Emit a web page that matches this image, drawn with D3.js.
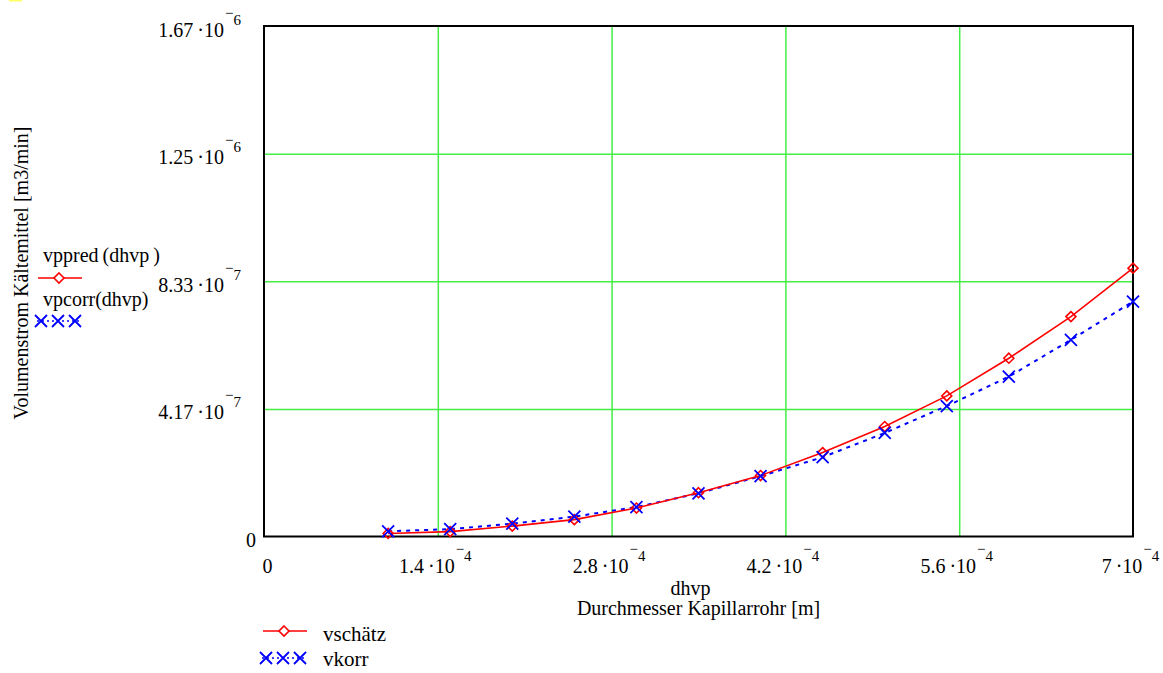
<!DOCTYPE html>
<html>
<head>
<meta charset="utf-8">
<script src="https://cdn.jsdelivr.net/npm/d3@7"></script>
<style>
  body { margin: 0; background: #fff; }
  svg { display: block; }
  svg text { font-family: "Liberation Serif", "Times New Roman", serif; }
</style>
</head>
<body>
<svg id="chart"></svg>
<script>
// diameter of capillary tube [m]
const dhvp = [1e-4, 1.5e-4, 2e-4, 2.5e-4, 3e-4, 3.5e-4, 4e-4, 4.5e-4, 5e-4, 5.5e-4, 6e-4, 6.5e-4, 7e-4];
// refrigerant volume flow [m3/min]
const vschaetz = [0.10e-7, 0.16e-7, 0.34e-7, 0.55e-7, 0.93e-7, 1.43e-7, 1.99e-7, 2.74e-7, 3.59e-7, 4.59e-7, 5.82e-7, 7.18e-7, 8.76e-7];
const vkorr = [0.17e-7, 0.24e-7, 0.42e-7, 0.65e-7, 0.96e-7, 1.41e-7, 1.97e-7, 2.59e-7, 3.38e-7, 4.26e-7, 5.22e-7, 6.42e-7, 7.67e-7];

// tick values and their labels [mantissa, exponent]
const xTicks = [0, 1.4e-4, 2.8e-4, 4.2e-4, 5.6e-4, 7e-4];
const xTickLabels = [["0", ""], ["1.4\u2009\u00b710", "4"], ["2.8\u2009\u00b710", "4"], ["4.2\u2009\u00b710", "4"], ["5.6\u2009\u00b710", "4"], ["7\u2009\u00b710", "4"]];
const yTicks = [0, 4.1667e-7, 8.3333e-7, 1.25e-6, 1.6667e-6];
const yTickLabels = [["0", ""], ["4.17\u2009\u00b710", "7"], ["8.33\u2009\u00b710", "7"], ["1.25\u2009\u00b710", "6"], ["1.67\u2009\u00b710", "6"]];

const W = 1163, H = 673;
const margin = {top: 26, right: 30, bottom: 136.5, left: 264};

const svg = d3.select('#chart').attr('width', W).attr('height', H);

// small yellow mark in the corner
svg.append('rect').attr('x', 9).attr('y', 0).attr('width', 13).attr('height', 1.5).attr('fill', '#ffff66');

const x = d3.scaleLinear().domain([0, 7e-4]).range([margin.left, W - margin.right]);
const y = d3.scaleLinear().domain([0, 1.6667e-6]).range([H - margin.bottom, margin.top]);

const plotW = x.range()[1] - x.range()[0];
const plotH = y.range()[0] - y.range()[1];

// grid
const gx = svg.append('g')
    .attr('transform', `translate(0, ${margin.top})`)
    .call(d3.axisBottom(x).tickValues(xTicks.slice(1, -1)).tickSize(plotH).tickFormat(''));
const gy = svg.append('g')
    .attr('transform', `translate(${margin.left}, 0)`)
    .call(d3.axisRight(y).tickValues(yTicks.slice(1, -1)).tickSize(plotW).tickFormat(''));
[gx, gy].forEach(g => {
    g.select('.domain').remove();
    g.selectAll('line').attr('stroke', '#44ee44').attr('stroke-width', 1.5);
});

// frame
svg.append('rect')
    .attr('x', margin.left).attr('y', margin.top)
    .attr('width', plotW).attr('height', plotH)
    .attr('fill', 'none').attr('stroke', '#000').attr('stroke-width', 2);

function sciLabel(sel, lab) {
    sel.append('tspan').style('font-size', '20px').text(lab[0]);
    if (lab[1]) {
        sel.append('tspan').style('font-size', '15px').attr('dx', 1).attr('dy', -19).text('\u2212');
        sel.append('tspan').style('font-size', '15px').attr('dy', 7).text(lab[1]);
    }
}

// x tick labels
const xl = svg.append('g')
    .attr('transform', `translate(0, ${y(0) + 36.5})`)
    .call(d3.axisBottom(x).tickValues(xTicks).tickSize(0).tickFormat(''));
xl.attr('font-family', null).attr('font-size', null);
xl.select('.domain').remove();
xl.selectAll('.tick text').remove();
xl.selectAll('.tick').append('text')
    .attr('text-anchor', 'middle')
    .attr('x', (d, i) => i === 0 ? 3 : -3)
    .attr('fill', '#000')
    .each(function(d, i) { sciLabel(d3.select(this), xTickLabels[i]); });

// y tick labels
const yl = svg.append('g')
    .attr('transform', `translate(${margin.left}, 0)`)
    .call(d3.axisLeft(y).tickValues(yTicks).tickSize(0).tickFormat(''));
yl.attr('font-family', null).attr('font-size', null);
yl.select('.domain').remove();
yl.selectAll('.tick text').remove();
yl.selectAll('.tick').append('text')
    .attr('text-anchor', 'end')
    .attr('x', (d, i) => i === 0 ? -8 : -23)
    .attr('y', 10)
    .attr('fill', '#000')
    .each(function(d, i) { sciLabel(d3.select(this), yTickLabels[i]); });

// axis titles
const cx = (x.range()[0] + x.range()[1]) / 2;
svg.append('text').attr('x', cx - 8).attr('y', 595).attr('text-anchor', 'middle')
    .style('font-size', '20px').text('dhvp');
svg.append('text').attr('x', cx).attr('y', 615).attr('text-anchor', 'middle')
    .style('font-size', '20px').text('Durchmesser Kapillarrohr [m]');
svg.append('text').attr('transform', 'translate(28, 273) rotate(-90)').attr('text-anchor', 'middle')
    .style('font-size', '20px').text('Volumenstrom K\u00e4ltemittel [m3/min]');

// series
const lineRed = d3.line().x((d, i) => x(dhvp[i])).y(d => y(d));
const lineBlue = d3.line().x((d, i) => x(dhvp[i])).y(d => y(d));

svg.append('path').datum(vkorr)
    .attr('d', lineBlue)
    .attr('fill', 'none').attr('stroke', '#0000ff').attr('stroke-width', 2)
    .attr('stroke-dasharray', '4,5');
svg.append('path').datum(vschaetz)
    .attr('d', lineRed)
    .attr('fill', 'none').attr('stroke', '#ff0000').attr('stroke-width', 1.6);

const diamond = 'M0,-5L5,0L0,5L-5,0Z';
const cross = 'M-6,-6L6,6M-6,6L6,-6';

svg.append('g').selectAll('path')
    .data(vschaetz).enter().append('path')
    .attr('transform', (d, i) => `translate(${x(dhvp[i])}, ${y(d)})`)
    .attr('d', diamond)
    .attr('fill', 'none').attr('stroke', '#ff0000').attr('stroke-width', 1.6);

svg.append('g').selectAll('path')
    .data(vkorr).enter().append('path')
    .attr('transform', (d, i) => `translate(${x(dhvp[i])}, ${y(d)})`)
    .attr('d', cross)
    .attr('fill', 'none').attr('stroke', '#0000ff').attr('stroke-width', 1.8);

// legends
function legendRed(g, lx, ly) {
    g.append('line').attr('x1', lx).attr('x2', lx + 44).attr('y1', ly).attr('y2', ly)
        .attr('stroke', '#ff0000').attr('stroke-width', 1.6);
    g.append('path').attr('transform', `translate(${lx + 21}, ${ly})`).attr('d', diamond)
        .attr('fill', '#fff').attr('stroke', '#ff0000').attr('stroke-width', 1.6);
}
function legendBlue(g, lx, ly) {
    g.append('line').attr('x1', lx).attr('x2', lx + 44).attr('y1', ly).attr('y2', ly)
        .attr('stroke', '#0000ff').attr('stroke-width', 1.6).attr('stroke-dasharray', '2,3');
    [4, 21, 38].forEach(o => {
        g.append('path').attr('transform', `translate(${lx + o}, ${ly})`).attr('d', cross)
            .attr('fill', 'none').attr('stroke', '#0000ff').attr('stroke-width', 1.8);
    });
}

const leftLeg = svg.append('g');
leftLeg.append('text').attr('x', 43).attr('y', 262).style('font-size', '20px').text('vppred\u2009(dhvp\u2009)');
legendRed(leftLeg, 38, 278);
leftLeg.append('text').attr('x', 43).attr('y', 306).style('font-size', '20px').text('vpcorr(dhvp)');
legendBlue(leftLeg, 37, 321);

const botLeg = svg.append('g');
legendRed(botLeg, 263, 631);
botLeg.append('text').attr('x', 323).attr('y', 641).style('font-size', '21px').text('vsch\u00e4tz');
legendBlue(botLeg, 262, 658);
botLeg.append('text').attr('x', 323).attr('y', 666).style('font-size', '21px').text('vkorr');
</script>
</body>
</html>
